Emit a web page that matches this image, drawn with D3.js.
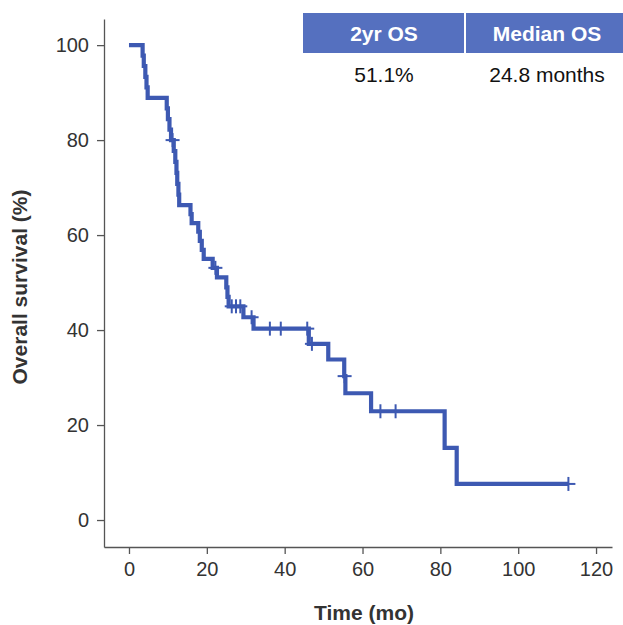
<!DOCTYPE html>
<html>
<head>
<meta charset="utf-8">
<script src="https://cdn.jsdelivr.net/npm/d3@7"></script>
<style>
  html, body { margin: 0; padding: 0; background: #fff; }
</style>
</head>
<body>
<div id="chart"></div>
<script>
// Kaplan-Meier step points (time in months, survival %)
const stepTimes = [0, 3.5, 3.8, 4.2, 4.5, 4.8, 9.7, 10.0, 10.4, 10.8, 11.5, 11.9, 12.2, 12.4, 12.7, 12.9,
  15.8, 16.1, 17.8, 18.2, 18.7, 19.2, 21.5, 22.6, 25.0, 25.3, 25.6, 29.4, 32.0, 46.2, 51.2, 55.3, 55.6,
  62.2, 81.1, 84.2, 112.9];
const stepSurv = [100, 97.8, 95.6, 93.3, 91.1, 88.9, 86.7, 84.4, 82.2, 80.0, 77.7, 75.4, 73.1, 70.8, 68.5, 66.3,
  64.4, 62.5, 60.7, 58.8, 56.9, 55.0, 53.1, 51.1, 49.0, 47.0, 45.0, 42.7, 40.3, 37.1, 33.8, 30.3, 26.7,
  22.9, 15.2, 7.6, 7.6];

// censored patients
const censorTimes = [11.2, 22.2, 26.4, 27.5, 28.6, 31.5, 36.2, 39.0, 45.8, 47.0, 55.4, 64.6, 68.5, 112.9];
const censorSurv = [80.0, 53.1, 45.0, 45.0, 45.0, 42.7, 40.3, 40.3, 40.3, 37.1, 30.3, 22.9, 22.9, 7.6];

const xTicks = [0, 20, 40, 60, 80, 100, 120];
const yTicks = [0, 20, 40, 60, 80, 100];

const tableHeaders = ['2yr OS', 'Median OS'];
const tableValues = ['51.1%', '24.8 months'];

const width = 623;
const height = 625;
const blue = '#3d59b2';
const axisColor = '#555';
const tickFont = '"Liberation Sans Narrow", "Liberation Sans", sans-serif';

const svg = d3.select('#chart')
  .append('svg')
  .attr('width', width)
  .attr('height', height);

const x = d3.scaleLinear()
  .domain([-6.42, 124.1])
  .range([104, 612]);

const y = d3.scaleLinear()
  .domain([-5.68, 105.5])
  .range([547, 19]);

function xAxis(g) {
  g.attr('transform', `translate(0,${y.range()[0]})`)
    .call(d3.axisBottom(x).tickValues(xTicks).tickSize(7).tickSizeOuter(0).tickPadding(8))
    .call(g => g.selectAll('path, line').attr('stroke', axisColor).attr('stroke-width', 1.3))
    .call(g => g.selectAll('text')
      .attr('font-family', tickFont)
      .attr('font-size', '20px')
      .attr('fill', '#333'));
}

function yAxis(g) {
  g.attr('transform', `translate(${x.range()[0]},0)`)
    .call(d3.axisLeft(y).tickValues(yTicks).tickSize(7).tickSizeOuter(0).tickPadding(8))
    .call(g => g.selectAll('path, line').attr('stroke', axisColor).attr('stroke-width', 1.3))
    .call(g => g.selectAll('text')
      .attr('font-family', tickFont)
      .attr('font-size', '20px')
      .attr('fill', '#333'));
}

svg.append('g').call(xAxis);
svg.append('g').call(yAxis);

// axis titles
svg.append('text')
  .attr('x', 364)
  .attr('y', 620)
  .attr('text-anchor', 'middle')
  .attr('font-family', tickFont)
  .attr('font-size', '21px')
  .attr('font-weight', 'bold')
  .attr('fill', '#333')
  .text('Time (mo)');

svg.append('text')
  .attr('transform', 'translate(27,287) rotate(-90)')
  .attr('text-anchor', 'middle')
  .attr('font-family', tickFont)
  .attr('font-size', '21px')
  .attr('font-weight', 'bold')
  .attr('fill', '#333')
  .text('Overall survival (%)');

// survival curve
const points = stepTimes.map((t, i) => [t, stepSurv[i]]);
const line = d3.line()
  .x(d => x(d[0]))
  .y(d => y(d[1]))
  .curve(d3.curveStepAfter);

svg.append('path')
  .datum(points)
  .attr('fill', 'none')
  .attr('stroke', blue)
  .attr('stroke-width', 4.2)
  .attr('stroke-linejoin', 'miter')
  .attr('d', line);

// censor marks
const censors = svg.append('g')
  .attr('stroke', blue)
  .attr('stroke-width', 2)
  .selectAll('g')
  .data(censorTimes.map((t, i) => [t, censorSurv[i]]))
  .join('g')
  .attr('transform', d => `translate(${x(d[0])},${y(d[1])})`);

censors.append('line').attr('x1', -7).attr('x2', 7);
censors.append('line').attr('y1', -7).attr('y2', 7);

// summary table
svg.append('rect')
  .attr('x', 303)
  .attr('y', 13)
  .attr('width', width - 303)
  .attr('height', 40)
  .attr('fill', '#5570bf');

svg.append('line')
  .attr('x1', 465).attr('x2', 465)
  .attr('y1', 13).attr('y2', 53)
  .attr('stroke', '#fff')
  .attr('stroke-width', 2);

svg.append('g')
  .selectAll('text')
  .data(tableHeaders)
  .join('text')
  .attr('x', (d, i) => i === 0 ? 384 : 547)
  .attr('y', 41)
  .attr('text-anchor', 'middle')
  .attr('font-family', '"Liberation Sans", Arial, sans-serif')
  .attr('font-weight', 'bold')
  .attr('font-size', '21px')
  .attr('fill', '#fff')
  .text(d => d);

svg.append('g')
  .selectAll('text')
  .data(tableValues)
  .join('text')
  .attr('x', (d, i) => i === 0 ? 384 : 547)
  .attr('y', 82)
  .attr('text-anchor', 'middle')
  .attr('font-family', '"Liberation Sans", Arial, sans-serif')
  .attr('font-size', '21px')
  .attr('fill', '#111')
  .text(d => d);
</script>
</body>
</html>
